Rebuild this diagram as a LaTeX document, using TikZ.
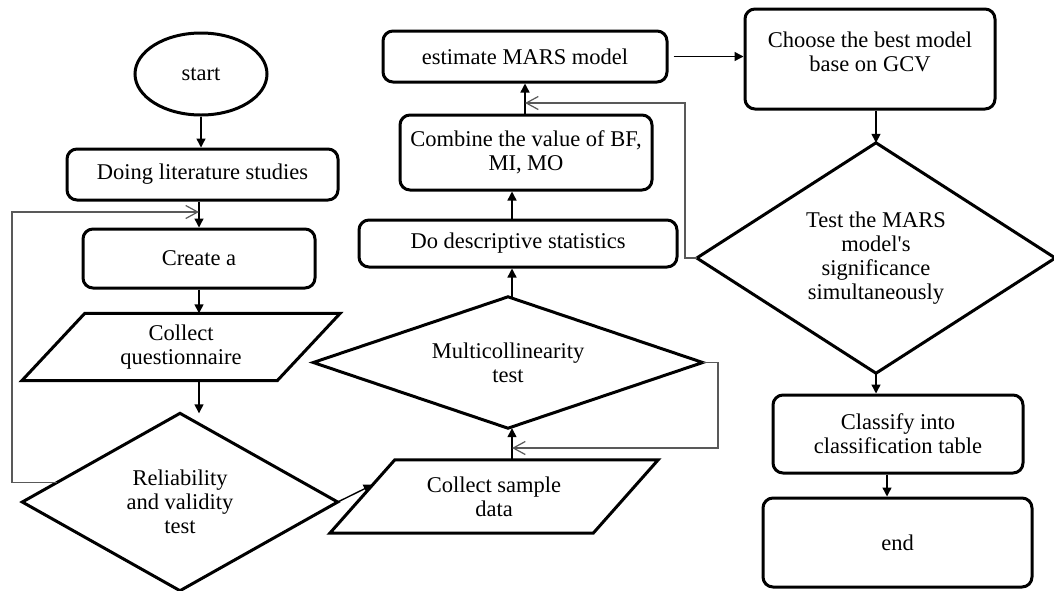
\documentclass[tikz,border=0pt]{standalone}
\usepackage{fontspec}
\setmainfont{Liberation Serif}
\usetikzlibrary{arrows.meta,calc,shapes.geometric}
\begin{document}
\begin{tikzpicture}[x=1pt,y=-1pt,
  txt/.style={align=center,font=\fontsize{22.5}{24}\selectfont,inner sep=0pt},
  rbox/.style={txt,draw,line width=3pt,rounded corners=10pt},
  hidden/.style={txt,draw=none},
  outline/.style={draw,line width=3pt,line join=miter},
  arr/.style={line width=1.4pt,-{Triangle[length=9pt,width=9pt]}},
  fb/.style={draw=black!65,line width=1.2pt,-{Straight Barb[length=12pt,width=13pt,line width=1.2pt]}}]
\fill[white] (0,0) rectangle (1054,590);
\useasboundingbox (0,0) rectangle (1054,590);

% left column
\node[txt,draw,ellipse,line width=3pt,minimum width=132pt,minimum height=82pt] (start) at (201,74) {start};
\node[rbox,minimum width=271pt,minimum height=51pt] (lit) at (202.5,174.5) {Doing literature studies};
\node[rbox,minimum width=232pt,minimum height=59pt] (create) at (199,258.5) {Create a};
\node[hidden,minimum width=318pt,minimum height=67pt] (quest) at (181,347) {Collect\\questionnaire};
\draw[outline] ($(quest.north west)+(63,0)$) -- (quest.north east) -- ($(quest.south east)+(-63,0)$) -- (quest.south west) -- cycle;
\node[hidden,minimum width=315pt,minimum height=177pt] (rel) at (180,502) {Reliability\\and validity\\test};
\draw[outline] (rel.north) -- (rel.east) -- (rel.south) -- (rel.west) -- cycle;

% middle column
\node[hidden,minimum width=328pt,minimum height=73pt] (sample) at (494,496.5) {Collect sample\\data};
\coordinate (stl) at ($(sample.north west)+(65,0)$);
\draw[outline] (stl) -- (sample.north east) -- ($(sample.south east)+(-65,0)$) -- (sample.south west) -- cycle;
\node[hidden,minimum width=389pt,minimum height=131pt] (multi) at (508,362.5) {Multicollinearity\\test};
\draw[outline] (multi.north) -- (multi.east) -- (multi.south) -- (multi.west) -- cycle;
\node[rbox,minimum width=318pt,minimum height=47pt] (desc) at (518,243.5) {Do descriptive statistics};
\node[rbox,minimum width=252pt,minimum height=75pt] (comb) at (526,152.5) {Combine the value of BF,\\MI, MO};
\node[rbox,minimum width=284pt,minimum height=51pt] (est) at (525,56.5) {estimate MARS model};

% right column
\node[rbox,minimum width=250pt,minimum height=100pt] (choose) at (870,59) {};
\node[txt] (choosetxt) at (870,52) {Choose the best model\\base on GCV};
\node[hidden,minimum width=358pt,minimum height=230pt] (test) at (876,258) {Test the MARS\\model\textquotesingle s\\significance\\simultaneously};
\draw[outline] (test.north) -- (test.east) -- (test.south) -- (test.west) -- cycle;
\node[rbox,minimum width=250pt,minimum height=78pt] (classify) at (898,434) {Classify into\\classification table};
\node[rbox,minimum width=269pt,minimum height=89pt] (endn) at (897.5,542.5) {end};

% helper coordinates
\coordinate (mx) at (512,0);
\coordinate (cx) at (887,0);
\coordinate (lx) at (12,212);
\coordinate (rx) at (718,448);
\coordinate (tx) at (685,103);
\coordinate (rfb) at ($(rel.west)!0.22!(rel.north)$);
\coordinate (sl) at ($(sample.south west)!0.66!(stl)$);

% main connectors
\draw[arr] (start.south) -- (start.south |- lit.north);
\draw[arr] (create.north |- lit.south) -- (create.north);
\draw[arr] (create.south) -- (create.south |- quest.north);
\draw[arr] (create.south |- quest.south) -- (create.south |- rel.north);
\draw[arr] (rel.east) -- (sl);
\draw[arr] (mx |- sample.north) -- (mx |- multi.south);
\draw[arr] (mx |- multi.north) -- (mx |- desc.south);
\draw[arr] (mx |- desc.north) -- (mx |- comb.south);
\draw[arr] (est.south |- comb.north) -- (est.south);
\draw[arr] ([xshift=5pt]est.east) -- (est.east -| choose.west);
\draw[arr] (test.north |- choose.south) -- (test.north);
\draw[arr] (test.south) -- (test.south |- classify.north);
\draw[arr] (cx |- classify.south) -- (cx |- endn.north);

% feedback connectors
\draw[fb] (rfb) -| (lx) -- (lx -| create.north);
\draw[fb] (multi.east) -| (rx) -- (rx -| mx);
\draw[fb] (test.west) -| (tx) -- (tx -| est.south);
\end{tikzpicture}
\end{document}
